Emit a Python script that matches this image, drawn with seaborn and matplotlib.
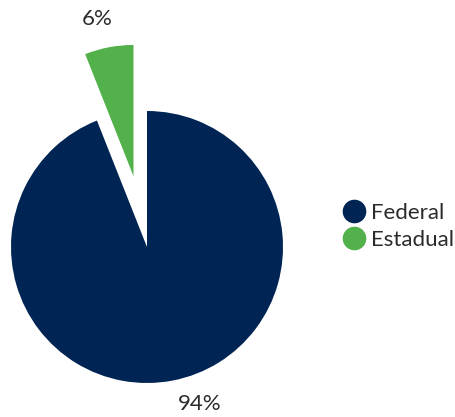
import matplotlib
matplotlib.use("Agg")
import matplotlib.pyplot as plt
from matplotlib.lines import Line2D
import seaborn as sns

# Share of the total by government level
categories = ["Federal", "Estadual"]
shares = [94, 6]
colors = ["#002554", "#52b14a"]

sns.set_theme(style="white")
plt.rcParams["font.family"] = ["Lato", "DejaVu Sans"]

fig = plt.figure(figsize=(4.55, 4.17), dpi=100)
ax = fig.add_axes([0, 0, 1, 1])

wedges, texts = ax.pie(
    shares,
    colors=colors,
    startangle=90,
    counterclock=False,
    explode=[0, 0.53],
    radius=1.0,
    labels=[f"{v:.0f}%" for v in shares],
    labeldistance=1.15,
    textprops=dict(fontsize=16, color="#2b2b2b"),
    wedgeprops=dict(linewidth=0),
)
wedges[1].set_radius(0.965)

# Place percentage labels
texts[0].set_position((0.39, -1.155))
texts[1].set_position((-0.368, 1.675))
for t in texts:
    t.set_ha("center")
    t.set_va("center")

ax.set_xlim(-147 / 136, (455 - 147) / 136)
ax.set_ylim(-(417 - 247) / 136, 247 / 136)
ax.set_aspect("auto")
ax.axis("off")

handles = [
    Line2D([0], [0], marker="o", linestyle="none", markersize=17,
           markerfacecolor=c, markeredgewidth=0)
    for c in colors
]
ax.legend(
    handles, categories,
    loc="center left",
    bbox_to_anchor=(0.71, 0.457),
    frameon=False,
    fontsize=16,
    handletextpad=0.25,
    labelspacing=0.3,
    handlelength=1.0,
    labelcolor="#2b2b2b",
)

fig.savefig("out.png", dpi=100)
